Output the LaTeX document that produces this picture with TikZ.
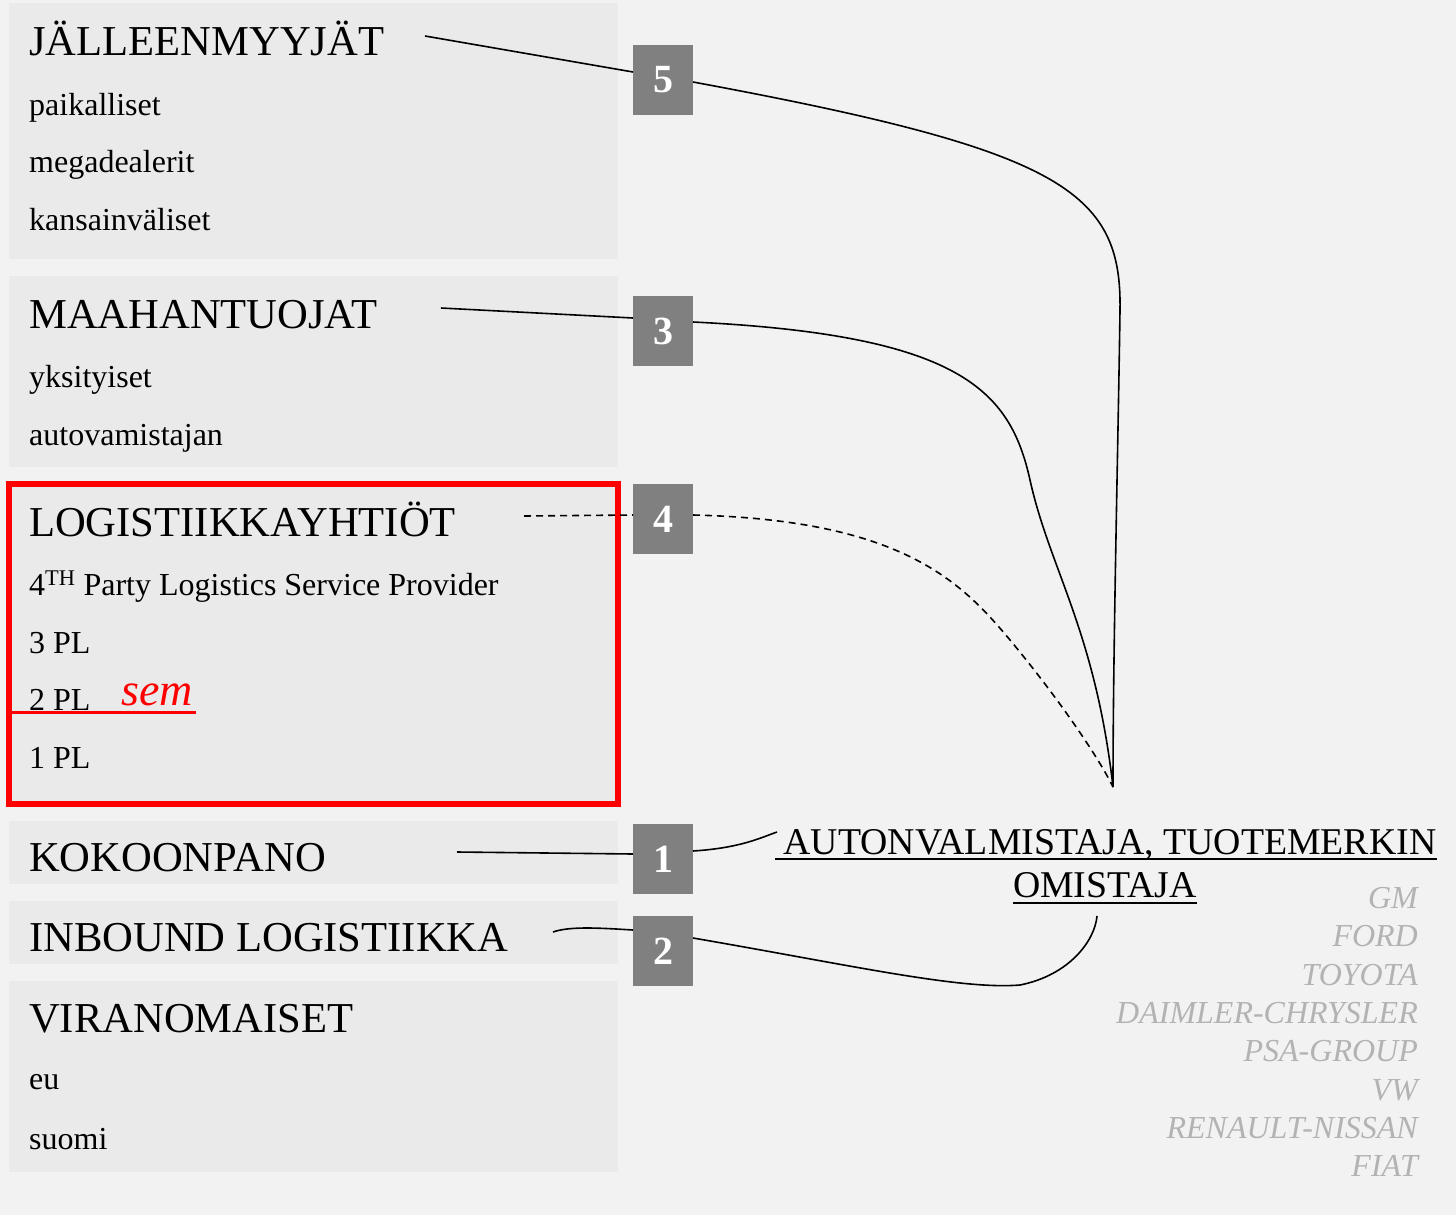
\documentclass[tikz,border=0pt]{standalone}
\usepackage{fontspec}
\setmainfont{Liberation Serif}
\definecolor{bg}{HTML}{F2F2F2}
\definecolor{panel}{HTML}{EAEAEA}
\definecolor{numgray}{HTML}{808080}
\definecolor{brand}{HTML}{B3B3B3}
\begin{document}
\begin{tikzpicture}[x=1pt,y=-1pt,
  panelbox/.style={fill=panel,draw=none},
  hdr/.style={anchor=base west,inner sep=0pt,font=\fontsize{42.6}{48}\selectfont},
  item/.style={anchor=base west,inner sep=0pt,font=\fontsize{32}{36}\selectfont},
  numbox/.style={fill=numgray,minimum width=60pt,minimum height=70pt,inner sep=0pt,text=white,font=\fontsize{40}{44}\selectfont\bfseries},
  brandtxt/.style={anchor=base east,inner sep=0pt,text=brand,font=\fontsize{32}{36}\selectfont\itshape},
  oemtxt/.style={anchor=base,inner sep=0pt,font=\fontsize{37.8}{42}\selectfont},
  conn/.style={line width=1.6pt},
  ulines/.style={line width=2.2pt}]
\useasboundingbox (0,0) rectangle (1456,1215);
\fill[bg] (0,0) rectangle (1456,1215);
% panels
\fill[panelbox] (9,3) rectangle (618,259);
\fill[panelbox] (9,276) rectangle (618,467);
\filldraw[fill=panel,draw=red,line width=6pt] (9,484) rectangle (618,804);
\fill[panelbox] (9,821) rectangle (618,884);
\fill[panelbox] (9,901) rectangle (618,964);
\fill[panelbox] (9,981) rectangle (618,1172);
% texts
\node[hdr] (h5) at (29,56) {JÄLLEENMYYJÄT};
\node[item] (i51) at (29,115) {paikalliset};
\node[item] (i52) at (29,172) {megadealerit};
\node[item] (i53) at (29,230) {kansainväliset};
\node[hdr] (h3) at (29,328) {MAAHANTUOJAT};
\node[item] (i31) at (29,387) {yksityiset};
\node[item] (i32) at (29,445) {autovamistajan};
\node[hdr] (h4) at (29,536) {LOGISTIIKKAYHTIÖT};
\node[item] (i41) at (29,595) {4\textsuperscript{TH} Party Logistics Service Provider};
\node[item] (i42) at (29,653) {3 PL};
\node[item] (i43) at (29,710) {2 PL};
\node[item] (i44) at (29,768) {1 PL};
\node[anchor=base west,inner sep=0pt,text=red,font=\fontsize{46}{50}\selectfont\itshape] (sem) at (121,705) {sem};
\draw[red,line width=3pt] (12,712) -- (196,712);
\node[hdr] (h1) at (29,871) {KOKOONPANO};
\node[hdr] (h2) at (29,951) {INBOUND LOGISTIIKKA};
\node[hdr] (h6) at (29,1032) {VIRANOMAISET};
\node[item] (i61) at (29,1089) {eu};
\node[item] (i62) at (29,1149) {suomi};
% number boxes
\node[numbox] (b5) at (663,80) {5};
\node[numbox] (b3) at (663,331) {3};
\node[numbox] (b4) at (663,519) {4};
\node[numbox] (b1) at (663,859) {1};
\node[numbox] (b2) at (663,951) {2};
% OEM
\node[oemtxt] (oemA) at (1110,854) {AUTONVALMISTAJA, TUOTEMERKIN};
\node[oemtxt] (oemB) at (1105,897) {OMISTAJA};
\draw[ulines] (775,859) -- (1437,859);
\draw[ulines] (1013,903) -- (1197,903);
% brands
\node[brandtxt] (g1) at (1418,908) {GM};
\node[brandtxt] (g2) at (1418,946) {FORD};
\node[brandtxt] (g3) at (1418,985) {TOYOTA};
\node[brandtxt] (g4) at (1418,1023) {DAIMLER-CHRYSLER};
\node[brandtxt] (g5) at (1418,1061) {PSA-GROUP};
\node[brandtxt] (g6) at (1418,1100) {VW};
\node[brandtxt] (g7) at (1418,1138) {RENAULT-NISSAN};
\node[brandtxt] (g8) at (1418,1176) {FIAT};
% coordinates
\coordinate (s5) at (425,36);
\coordinate (e5) at (633,72);
\coordinate (s3) at (441,308);
\coordinate (e3) at (633,318);
\coordinate (s4) at (524,516);
\coordinate (e4) at (633,515);
\coordinate (s1) at (457,852);
\coordinate (e1) at (633,854);
\coordinate (s2) at (553,932);
\coordinate (e2) at (633,930);
\coordinate (conv) at (1113,787);
\coordinate (t1) at (777,832);
\coordinate (t2) at (1097,916);
% connectors
\draw[conn] (s5) -- (e5);
\draw[conn] (693,82) .. controls (1060,150) and (1122,190) .. (1120,310) .. controls (1118,450) and (1113,650) .. (conv);
\draw[conn] (s3) -- (e3);
\draw[conn] (693,322) .. controls (960,335) and (1010,390) .. (1030,480) .. controls (1050,570) and (1095,630) .. (conv);
\draw[conn,dashed,dash pattern=on 7pt off 5pt] (s4) -- (e4);
\draw[conn,dashed,dash pattern=on 7pt off 5pt] (693,515) .. controls (900,520) and (960,580) .. (1010,640) .. controls (1060,700) and (1100,760) .. (conv);
\draw[conn] (s1) -- (e1);
\draw[conn] (693,851) .. controls (740,848) and (760,838) .. (t1);
\draw[conn] (s2) .. controls (570,926) and (600,928) .. (e2);
\draw[conn] (693,938) .. controls (850,965) and (960,990) .. (1020,985) .. controls (1070,975) and (1095,940) .. (t2);
\end{tikzpicture}
\end{document}
